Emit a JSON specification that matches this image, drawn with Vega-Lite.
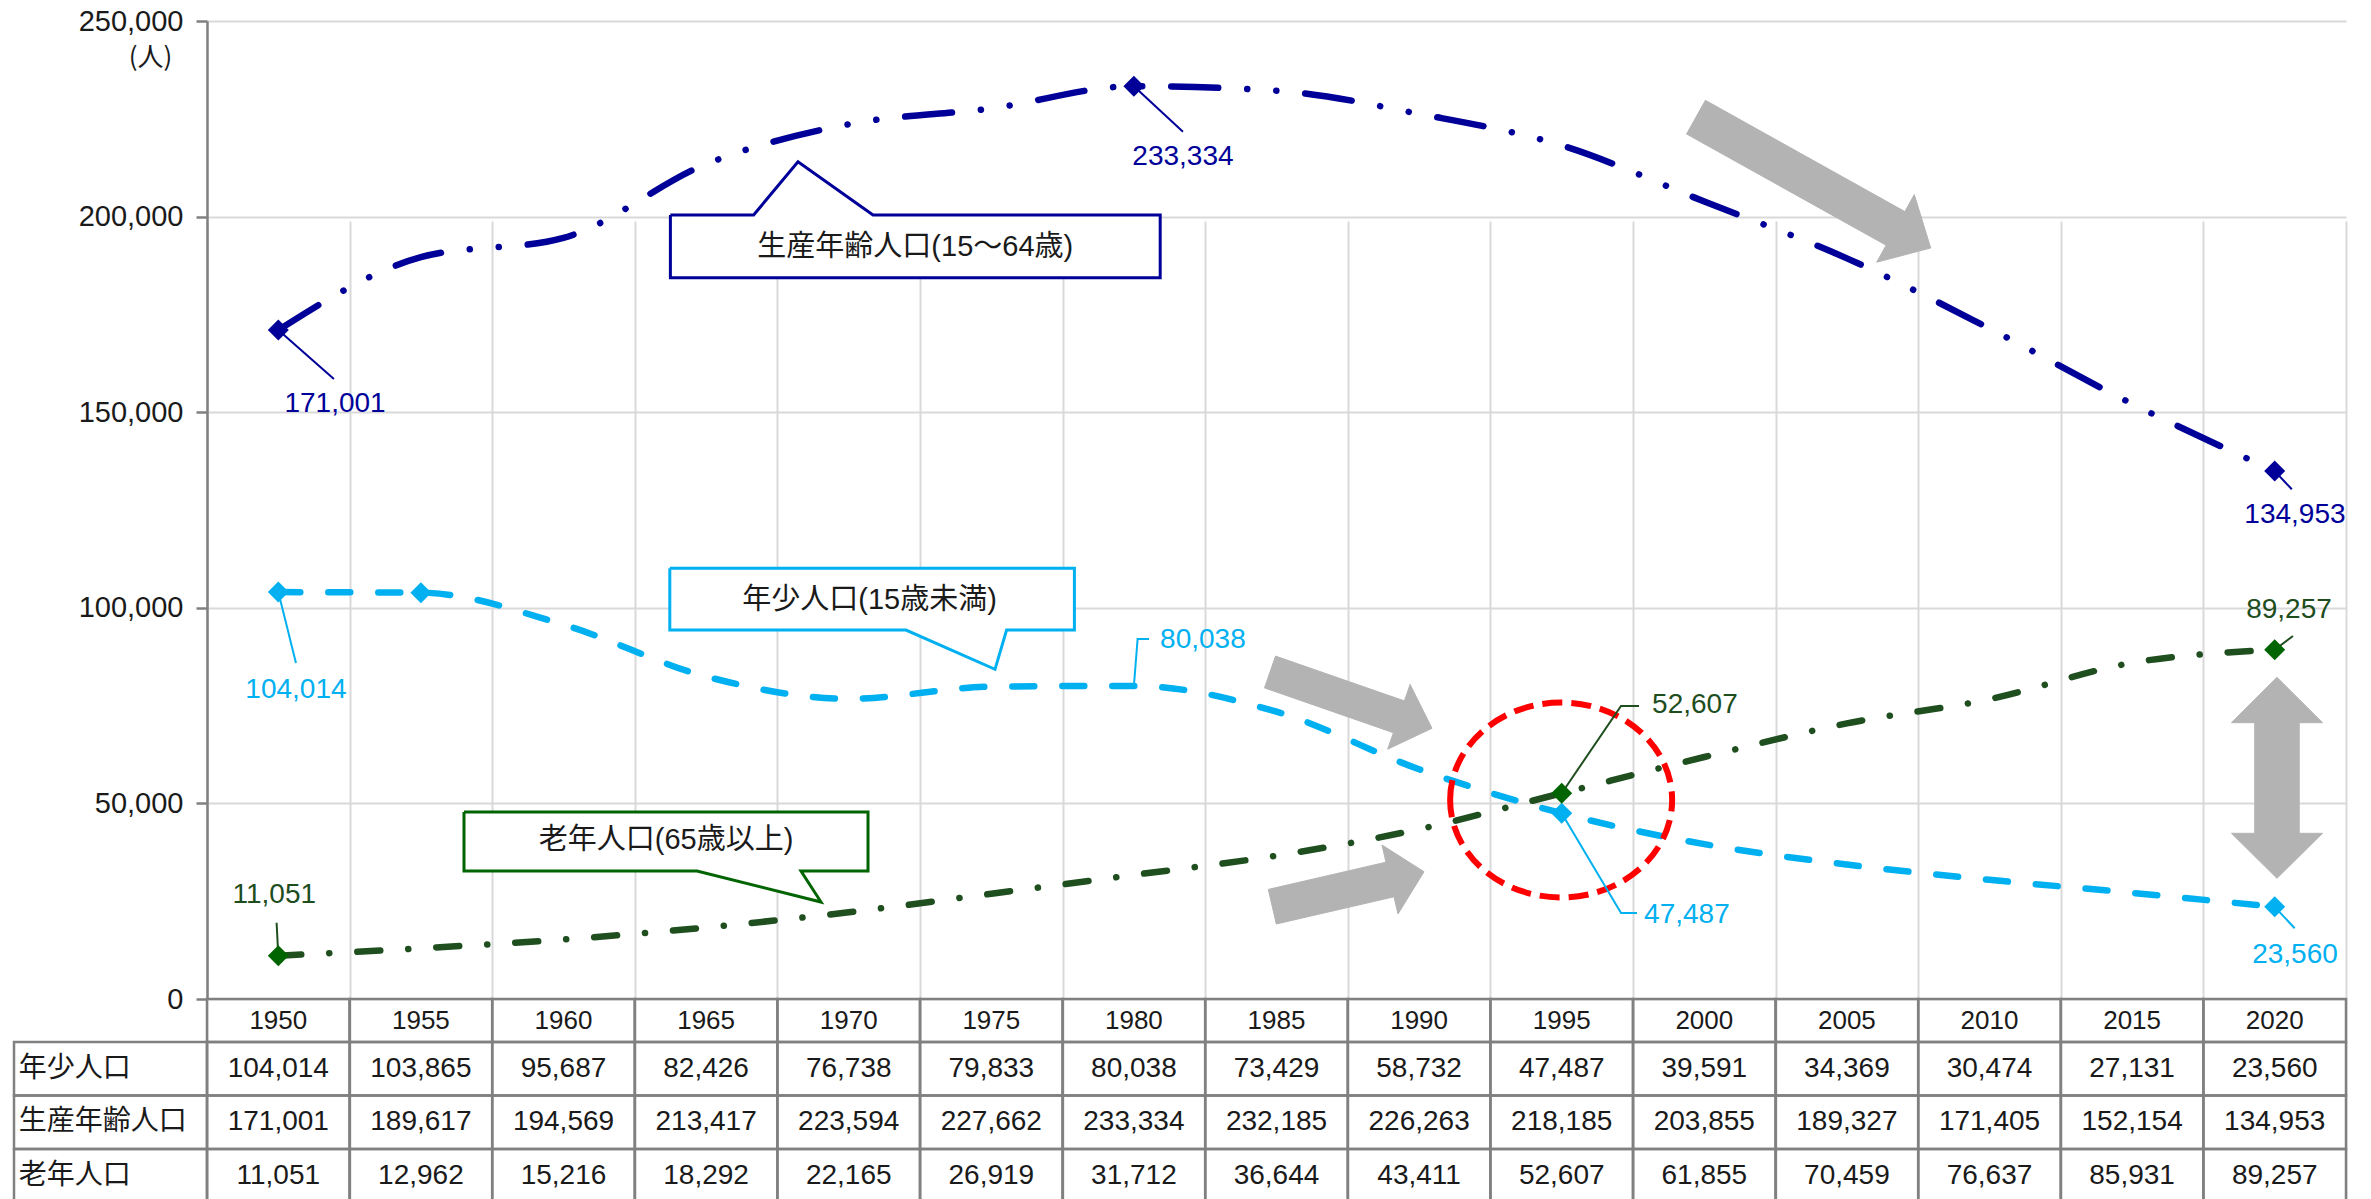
{
  "$schema": "https://vega.github.io/schema/vega-lite/v6.json",
  "width": 2139,
  "height": 1178,
  "autosize": {"type": "none"},
  "padding": {"left": 207, "top": 21, "right": 25, "bottom": 0},
  "background": "white",
  "config": {"view": {"stroke": null}, "font": "Liberation Sans"},
  "datasets": {
    "pop": [
      {"group": "年少人口", "year": 1950, "value": 104014},
      {"group": "年少人口", "year": 1955, "value": 103865},
      {"group": "年少人口", "year": 1960, "value": 95687},
      {"group": "年少人口", "year": 1965, "value": 82426},
      {"group": "年少人口", "year": 1970, "value": 76738},
      {"group": "年少人口", "year": 1975, "value": 79833},
      {"group": "年少人口", "year": 1980, "value": 80038},
      {"group": "年少人口", "year": 1985, "value": 73429},
      {"group": "年少人口", "year": 1990, "value": 58732},
      {"group": "年少人口", "year": 1995, "value": 47487},
      {"group": "年少人口", "year": 2000, "value": 39591},
      {"group": "年少人口", "year": 2005, "value": 34369},
      {"group": "年少人口", "year": 2010, "value": 30474},
      {"group": "年少人口", "year": 2015, "value": 27131},
      {"group": "年少人口", "year": 2020, "value": 23560},
      {"group": "生産年齢人口", "year": 1950, "value": 171001},
      {"group": "生産年齢人口", "year": 1955, "value": 189617},
      {"group": "生産年齢人口", "year": 1960, "value": 194569},
      {"group": "生産年齢人口", "year": 1965, "value": 213417},
      {"group": "生産年齢人口", "year": 1970, "value": 223594},
      {"group": "生産年齢人口", "year": 1975, "value": 227662},
      {"group": "生産年齢人口", "year": 1980, "value": 233334},
      {"group": "生産年齢人口", "year": 1985, "value": 232185},
      {"group": "生産年齢人口", "year": 1990, "value": 226263},
      {"group": "生産年齢人口", "year": 1995, "value": 218185},
      {"group": "生産年齢人口", "year": 2000, "value": 203855},
      {"group": "生産年齢人口", "year": 2005, "value": 189327},
      {"group": "生産年齢人口", "year": 2010, "value": 171405},
      {"group": "生産年齢人口", "year": 2015, "value": 152154},
      {"group": "生産年齢人口", "year": 2020, "value": 134953},
      {"group": "老年人口", "year": 1950, "value": 11051},
      {"group": "老年人口", "year": 1955, "value": 12962},
      {"group": "老年人口", "year": 1960, "value": 15216},
      {"group": "老年人口", "year": 1965, "value": 18292},
      {"group": "老年人口", "year": 1970, "value": 22165},
      {"group": "老年人口", "year": 1975, "value": 26919},
      {"group": "老年人口", "year": 1980, "value": 31712},
      {"group": "老年人口", "year": 1985, "value": 36644},
      {"group": "老年人口", "year": 1990, "value": 43411},
      {"group": "老年人口", "year": 1995, "value": 52607},
      {"group": "老年人口", "year": 2000, "value": 61855},
      {"group": "老年人口", "year": 2005, "value": 70459},
      {"group": "老年人口", "year": 2010, "value": 76637},
      {"group": "老年人口", "year": 2015, "value": 85931},
      {"group": "老年人口", "year": 2020, "value": 89257}
    ],
    "markers": [
      {"group": "生産年齢人口", "year": 1950, "value": 171001},
      {"group": "生産年齢人口", "year": 1980, "value": 233334},
      {"group": "生産年齢人口", "year": 2020, "value": 134953},
      {"group": "年少人口", "year": 1950, "value": 104014},
      {"group": "年少人口", "year": 1955, "value": 103865},
      {"group": "年少人口", "year": 1995, "value": 47487},
      {"group": "年少人口", "year": 2020, "value": 23560},
      {"group": "老年人口", "year": 1950, "value": 11051},
      {"group": "老年人口", "year": 1995, "value": 52607},
      {"group": "老年人口", "year": 2020, "value": 89257}
    ],
    "labels": [
      {"group": "生産年齢人口", "value": 171001, "lyear": 1951.99, "lvalue": 152094},
      {"group": "生産年齢人口", "value": 233334, "lyear": 1981.72, "lvalue": 215310},
      {"group": "生産年齢人口", "value": 134953, "lyear": 2020.71, "lvalue": 123720},
      {"group": "年少人口", "value": 104014, "lyear": 1950.62, "lvalue": 78987},
      {"group": "年少人口", "value": 80038, "lyear": 1982.42, "lvalue": 91767},
      {"group": "年少人口", "value": 47487, "lyear": 1999.39, "lvalue": 21472},
      {"group": "年少人口", "value": 23560, "lyear": 2020.71, "lvalue": 11247},
      {"group": "老年人口", "value": 11051, "lyear": 1949.86, "lvalue": 26584},
      {"group": "老年人口", "value": 52607, "lyear": 1999.67, "lvalue": 75152},
      {"group": "老年人口", "value": 89257, "lyear": 2020.5, "lvalue": 99436}
    ],
    "leaders": [
      {"lid": 1, "group": "生産年齢人口", "ord": 1, "year": 1950, "value": 171001},
      {"lid": 1, "group": "生産年齢人口", "ord": 2, "year": 1951.95, "value": 158485},
      {"lid": 2, "group": "生産年齢人口", "ord": 1, "year": 1980, "value": 233334},
      {"lid": 2, "group": "生産年齢人口", "ord": 2, "year": 1981.72, "value": 221701},
      {"lid": 3, "group": "生産年齢人口", "ord": 1, "year": 2020, "value": 134953},
      {"lid": 3, "group": "生産年齢人口", "ord": 2, "year": 2020.6, "value": 130290},
      {"lid": 4, "group": "年少人口", "ord": 1, "year": 1950, "value": 104014},
      {"lid": 4, "group": "年少人口", "ord": 2, "year": 1950.62, "value": 85888},
      {"lid": 5, "group": "年少人口", "ord": 1, "year": 1980, "value": 80038},
      {"lid": 5, "group": "年少人口", "ord": 2, "year": 1980.13, "value": 92023},
      {"lid": 5, "group": "年少人口", "ord": 3, "year": 1980.53, "value": 92023},
      {"lid": 6, "group": "年少人口", "ord": 1, "year": 1995, "value": 47487},
      {"lid": 6, "group": "年少人口", "ord": 2, "year": 1997.08, "value": 21984},
      {"lid": 6, "group": "年少人口", "ord": 3, "year": 1997.64, "value": 21984},
      {"lid": 7, "group": "年少人口", "ord": 1, "year": 2020, "value": 23560},
      {"lid": 7, "group": "年少人口", "ord": 2, "year": 2020.7, "value": 18072},
      {"lid": 8, "group": "老年人口", "ord": 1, "year": 1950, "value": 11051},
      {"lid": 8, "group": "老年人口", "ord": 2, "year": 1949.94, "value": 19504},
      {"lid": 9, "group": "老年人口", "ord": 1, "year": 1995, "value": 52607},
      {"lid": 9, "group": "老年人口", "ord": 2, "year": 1997.08, "value": 74897},
      {"lid": 9, "group": "老年人口", "ord": 3, "year": 1997.71, "value": 74897},
      {"lid": 10, "group": "老年人口", "ord": 1, "year": 2020, "value": 89257},
      {"lid": 10, "group": "老年人口", "ord": 2, "year": 2020.64, "value": 92790}
    ],
    "callouts": [
      {"cid": "C1", "ord": 1, "year": 1963.748, "value": 200406},
      {"cid": "C1", "ord": 2, "year": 1966.666, "value": 200406},
      {"cid": "C1", "ord": 3, "year": 1968.222, "value": 214031},
      {"cid": "C1", "ord": 4, "year": 1970.852, "value": 200406},
      {"cid": "C1", "ord": 5, "year": 1980.922, "value": 200406},
      {"cid": "C1", "ord": 6, "year": 1980.922, "value": 184379},
      {"cid": "C1", "ord": 7, "year": 1963.748, "value": 184379},
      {"cid": "C1", "ord": 8, "year": 1963.748, "value": 200406},
      {"cid": "C2", "ord": 1, "year": 1963.727, "value": 110096},
      {"cid": "C2", "ord": 2, "year": 1977.914, "value": 110096},
      {"cid": "C2", "ord": 3, "year": 1977.914, "value": 94324},
      {"cid": "C2", "ord": 4, "year": 1975.536, "value": 94324},
      {"cid": "C2", "ord": 5, "year": 1975.13, "value": 84278},
      {"cid": "C2", "ord": 6, "year": 1972.009, "value": 94324},
      {"cid": "C2", "ord": 7, "year": 1963.727, "value": 94324},
      {"cid": "C2", "ord": 8, "year": 1963.727, "value": 110096},
      {"cid": "C3", "ord": 1, "year": 1956.511, "value": 47801},
      {"cid": "C3", "ord": 2, "year": 1970.677, "value": 47801},
      {"cid": "C3", "ord": 3, "year": 1970.677, "value": 32719},
      {"cid": "C3", "ord": 4, "year": 1968.327, "value": 32719},
      {"cid": "C3", "ord": 5, "year": 1969.029, "value": 24795},
      {"cid": "C3", "ord": 6, "year": 1964.681, "value": 32719},
      {"cid": "C3", "ord": 7, "year": 1956.511, "value": 32719},
      {"cid": "C3", "ord": 8, "year": 1956.511, "value": 47801}
    ],
    "callout_text": [
      {"cid": "C1", "text": "生産年齢人口(15～64歳)", "year": 1972.335, "value": 192303},
      {"cid": "C2", "text": "年少人口(15歳未満)", "year": 1970.733, "value": 101992},
      {"cid": "C3", "text": "老年人口(65歳以上)", "year": 1963.594, "value": 40644}
    ],
    "arrows": [
      {"aid": "A1", "ord": 1, "year": 2000.039, "value": 229726},
      {"aid": "A1", "ord": 2, "year": 2007.034, "value": 201275},
      {"aid": "A1", "ord": 3, "year": 2007.364, "value": 205621},
      {"aid": "A1", "ord": 4, "year": 2007.938, "value": 191971},
      {"aid": "A1", "ord": 5, "year": 2006.045, "value": 188341},
      {"aid": "A1", "ord": 6, "year": 2006.375, "value": 192686},
      {"aid": "A1", "ord": 7, "year": 1999.379, "value": 221111},
      {"aid": "A1", "ord": 8, "year": 2000.039, "value": 229726},
      {"aid": "A2", "ord": 1, "year": 1984.965, "value": 87652},
      {"aid": "A2", "ord": 2, "year": 1989.485, "value": 76200},
      {"aid": "A2", "ord": 3, "year": 1989.684, "value": 80418},
      {"aid": "A2", "ord": 4, "year": 1990.452, "value": 69196},
      {"aid": "A2", "ord": 5, "year": 1988.899, "value": 63854},
      {"aid": "A2", "ord": 6, "year": 1989.099, "value": 68072},
      {"aid": "A2", "ord": 7, "year": 1984.579, "value": 79523},
      {"aid": "A2", "ord": 8, "year": 1984.965, "value": 87652},
      {"aid": "A3", "ord": 1, "year": 1984.713, "value": 28016},
      {"aid": "A3", "ord": 2, "year": 1988.839, "value": 34969},
      {"aid": "A3", "ord": 3, "year": 1988.699, "value": 39365},
      {"aid": "A3", "ord": 4, "year": 1990.172, "value": 32540},
      {"aid": "A3", "ord": 5, "year": 1989.26, "value": 21728},
      {"aid": "A3", "ord": 6, "year": 1989.12, "value": 26124},
      {"aid": "A3", "ord": 7, "year": 1984.993, "value": 19172},
      {"aid": "A3", "ord": 8, "year": 1984.713, "value": 28016},
      {"aid": "A4", "ord": 1, "year": 2020.08, "value": 82233},
      {"aid": "A4", "ord": 2, "year": 2021.676, "value": 70628},
      {"aid": "A4", "ord": 3, "year": 2020.86, "value": 70628},
      {"aid": "A4", "ord": 4, "year": 2020.86, "value": 42356},
      {"aid": "A4", "ord": 5, "year": 2021.676, "value": 42356},
      {"aid": "A4", "ord": 6, "year": 2020.08, "value": 30853},
      {"aid": "A4", "ord": 7, "year": 2018.485, "value": 42356},
      {"aid": "A4", "ord": 8, "year": 2019.3, "value": 42356},
      {"aid": "A4", "ord": 9, "year": 2019.3, "value": 70628},
      {"aid": "A4", "ord": 10, "year": 2018.485, "value": 70628},
      {"aid": "A4", "ord": 11, "year": 2020.08, "value": 82233}
    ],
    "focus": [
      {"year": 1994.98, "value": 50868}
    ]
  },
  "layer": [
    {
      "data": {"name": "pop"},
      "encoding": {
        "x": {
          "field": "year", "type": "ordinal",
          "scale": {"paddingInner": 0, "paddingOuter": 0},
          "axis": null
        }
      },
      "layer": [
        {
          "transform": [{"filter": "datum.group === '年少人口'"}],
          "mark": {"type": "rect", "fill": "transparent", "stroke": "#808080", "strokeWidth": 2.5},
          "encoding": {"y": {"datum": "年", "type": "nominal", "scale": {"domain": ["年"], "range": [978, 1021], "paddingInner": 0, "paddingOuter": 0}, "axis": null}}
        },
        {
          "transform": [{"filter": "datum.group === '年少人口'"}],
          "mark": {"type": "text", "font": "Liberation Sans", "fontSize": 26, "fill": "#1a1a1a", "align": "center", "baseline": "middle"},
          "encoding": {
            "y": {"datum": "年", "type": "nominal", "scale": {"domain": ["年"], "range": [978, 1021], "paddingInner": 0, "paddingOuter": 0}, "axis": null},
            "text": {"field": "year", "type": "ordinal"}
          }
        },
        {
          "mark": {"type": "rect", "fill": "transparent", "stroke": "#808080", "strokeWidth": 2.5},
          "encoding": {"y": {"field": "group", "type": "nominal", "scale": {"domain": ["年少人口", "生産年齢人口", "老年人口"], "range": [1021, 1181.5], "paddingInner": 0, "paddingOuter": 0}, "axis": null}}
        },
        {
          "mark": {"type": "text", "font": "Liberation Sans", "fontSize": 28, "fill": "#1a1a1a", "align": "center", "baseline": "middle"},
          "encoding": {
            "y": {"field": "group", "type": "nominal", "scale": {"domain": ["年少人口", "生産年齢人口", "老年人口"], "range": [1021, 1181.5], "paddingInner": 0, "paddingOuter": 0}, "axis": null},
            "text": {"field": "value", "type": "quantitative", "format": ","}
          }
        }
      ],
      "resolve": {"scale": {"y": "independent"}}
    },
    {
      "data": {"name": "pop"},
      "transform": [{"filter": "datum.year === 1950"}],
      "encoding": {
        "y": {"field": "group", "type": "nominal", "scale": {"domain": ["年少人口", "生産年齢人口", "老年人口"], "range": [1021, 1181.5], "paddingInner": 0, "paddingOuter": 0}, "axis": null}
      },
      "layer": [
        {
          "mark": {"type": "rect", "fill": "transparent", "stroke": "#808080", "strokeWidth": 2.5},
          "encoding": {
            "x": {"datum": 0, "type": "quantitative", "scale": {"domain": [0, 1], "range": [-193, 0], "nice": false, "zero": false}, "axis": null},
            "x2": {"datum": 1}
          }
        },
        {
          "mark": {"type": "text", "font": "Noto Sans CJK JP", "fontSize": 28, "fill": "#1a1a1a", "align": "left", "baseline": "middle"},
          "encoding": {
            "x": {"datum": 0.025, "type": "quantitative", "scale": {"domain": [0, 1], "range": [-193, 0], "nice": false, "zero": false}, "axis": null},
            "text": {"field": "group"}
          }
        }
      ]
    },
    {
      "encoding": {
        "x": {
          "field": "year", "type": "quantitative",
          "scale": {"domain": [1947.5, 2022.5], "nice": false, "zero": false},
          "axis": {"orient": "bottom", "values": [1947.5, 1952.5, 1957.5, 1962.5, 1967.5, 1972.5, 1977.5, 1982.5, 1987.5, 1992.5, 1997.5, 2002.5, 2007.5, 2012.5, 2017.5, 2022.5], "grid": true, "gridColor": "#D9D9D9", "gridWidth": 2, "labels": false, "ticks": false, "domain": false, "title": null}
        },
        "y": {
          "field": "value", "type": "quantitative",
          "scale": {"domain": [0, 250000], "range": [978, 0], "nice": false, "zero": false},
          "axis": {
            "orient": "left", "values": [0, 50000, 100000, 150000, 200000, 250000],
            "labelExpr": "format(datum.value, ',')",
            "grid": true, "gridColor": "#D9D9D9", "gridWidth": 2,
            "domainColor": "#808080", "domainWidth": 2.5, "tickColor": "#808080", "tickWidth": 2.5, "tickSize": 11,
            "labelFont": "Liberation Sans", "labelFontSize": 29, "labelColor": "#1a1a1a", "labelPadding": 13,
            "title": "(人)", "titleAngle": 0, "titleX": -57, "titleY": 36, "titleAlign": "center", "titleBaseline": "middle",
            "titleFont": "Noto Sans CJK JP", "titleFontSize": 26, "titleFontWeight": "normal", "titleColor": "#1a1a1a"
          }
        }
      },
      "layer": [
        {
          "data": {"name": "pop"},
          "mark": {"type": "line", "interpolate": "monotone", "strokeWidth": 6.5, "strokeCap": "round", "strokeJoin": "round"},
          "encoding": {
            "stroke": {"field": "group", "type": "nominal", "scale": {"domain": ["生産年齢人口", "年少人口", "老年人口"], "range": ["#000099", "#00B0F0", "#1F4E1F"]}, "legend": null},
            "strokeDash": {"field": "group", "type": "nominal", "scale": {"domain": ["生産年齢人口", "年少人口", "老年人口"], "range": [[47, 29, 0.1, 29, 0.1, 29], [22, 28], [23, 28, 0.1, 28]]}, "legend": null}
          }
        },
        {
          "data": {"name": "callouts"},
          "transform": [{"filter": "datum.cid === 'C1'"}],
          "mark": {"type": "line", "fill": "white", "stroke": "#000099", "strokeWidth": 3, "strokeJoin": "miter"},
          "encoding": {"order": {"field": "ord", "type": "quantitative"}}
        },
        {
          "data": {"name": "callouts"},
          "transform": [{"filter": "datum.cid === 'C2'"}],
          "mark": {"type": "line", "fill": "white", "stroke": "#00B0F0", "strokeWidth": 3, "strokeJoin": "miter"},
          "encoding": {"order": {"field": "ord", "type": "quantitative"}}
        },
        {
          "data": {"name": "callouts"},
          "transform": [{"filter": "datum.cid === 'C3'"}],
          "mark": {"type": "line", "fill": "white", "stroke": "#006400", "strokeWidth": 3, "strokeJoin": "miter"},
          "encoding": {"order": {"field": "ord", "type": "quantitative"}}
        },
        {
          "data": {"name": "arrows"},
          "mark": {"type": "line", "fill": "#B3B3B3", "stroke": "#B3B3B3", "strokeWidth": 1, "strokeJoin": "miter"},
          "encoding": {"detail": {"field": "aid"}, "order": {"field": "ord", "type": "quantitative"}}
        },
        {
          "data": {"name": "focus"},
          "mark": {"type": "point", "shape": "M -1 0 A 1 0.878 0 1 1 1 0 A 1 0.878 0 1 1 -1 0 Z", "size": 49284, "filled": false, "fill": "transparent", "stroke": "#FF0000", "strokeWidth": 6, "strokeDash": [20, 9], "opacity": 1}
        },
        {
          "data": {"name": "leaders"},
          "mark": {"type": "line", "strokeWidth": 2},
          "encoding": {
            "detail": {"field": "lid"},
            "order": {"field": "ord", "type": "quantitative"},
            "stroke": {"field": "group", "type": "nominal", "scale": {"domain": ["生産年齢人口", "年少人口", "老年人口"], "range": ["#000099", "#00B0F0", "#1F4E1F"]}, "legend": null}
          }
        },
        {
          "data": {"name": "markers"},
          "mark": {"type": "point", "shape": "diamond", "filled": true, "size": 440, "opacity": 1},
          "encoding": {
            "fill": {"field": "group", "type": "nominal", "scale": {"domain": ["生産年齢人口", "年少人口", "老年人口"], "range": ["#000099", "#00B0F0", "#006400"]}, "legend": null}
          }
        },
        {
          "data": {"name": "labels"},
          "mark": {"type": "text", "font": "Liberation Sans", "fontSize": 28, "align": "center", "baseline": "middle"},
          "encoding": {
            "x": {"field": "lyear", "type": "quantitative"},
            "y": {"field": "lvalue", "type": "quantitative"},
            "text": {"field": "value", "type": "quantitative", "format": ","},
            "color": {"field": "group", "type": "nominal", "scale": {"domain": ["生産年齢人口", "年少人口", "老年人口"], "range": ["#000099", "#00B0F0", "#1E4D1E"]}, "legend": null}
          }
        },
        {
          "data": {"name": "callout_text"},
          "mark": {"type": "text", "font": "Liberation Sans, Noto Sans CJK JP", "fontSize": 29, "fill": "#1a1a1a", "align": "center", "baseline": "middle"},
          "encoding": {"text": {"field": "text"}}
        }
      ]
    }
  ],
  "resolve": {"scale": {"x": "independent", "y": "independent"}}
}
